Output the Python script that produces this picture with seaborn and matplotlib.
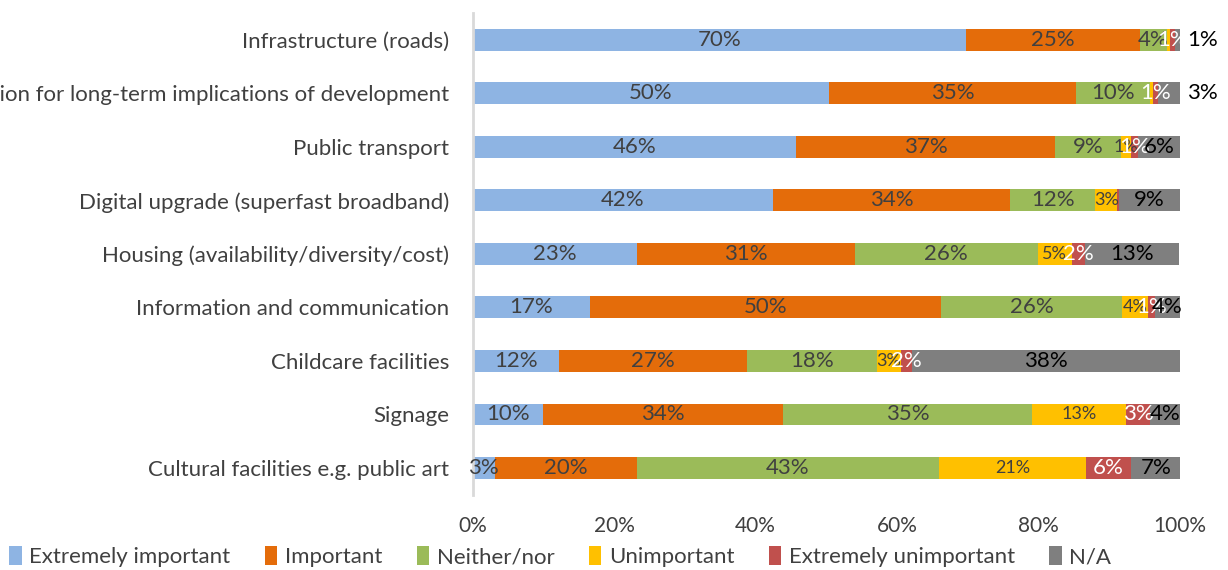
import numpy as np
import pandas as pd
import matplotlib
matplotlib.use("Agg")
import matplotlib.pyplot as plt
from matplotlib.patches import Patch
import seaborn as sns

# categories, top to bottom
categories = [
    "Infrastructure (roads)",
    "Consideration for long-term implications of development",
    "Public transport",
    "Digital upgrade (superfast broadband)",
    "Housing (availability/diversity/cost)",
    "Information and communication",
    "Childcare facilities",
    "Signage",
    "Cultural facilities e.g. public art",
]
series = ["Extremely important", "Important", "Neither/nor", "Unimportant",
          "Extremely unimportant", "N/A"]

# shares in %
extremely_important = [69.7, 50.4, 45.7, 42.4, 23.2, 16.6, 12.2, 9.9, 3.1]
important = [24.6, 34.9, 36.6, 33.6, 30.8, 49.6, 26.6, 33.9, 20.1]
neither_nor = [3.9, 10.4, 9.4, 12.0, 25.9, 25.6, 18.3, 35.3, 42.7]
unimportant = [0.4, 0.4, 1.4, 3.1, 4.8, 3.6, 3.4, 13.3, 20.8]
extremely_unimportant = [0.7, 0.8, 0.9, 0.3, 1.8, 1.0, 1.6, 3.4, 6.4]
not_applicable = [0.7, 3.1, 6.0, 8.6, 13.4, 3.6, 37.9, 4.2, 6.9]

values = [extremely_important, important, neither_nor, unimportant,
          extremely_unimportant, not_applicable]
colors = ["#8EB4E3", "#E46C0A", "#9BBB59", "#FFC000", "#C0504D", "#7F7F7F"]
label_colors = ["#404040", "#404040", "#404040", "#404040", "white", "black"]
label_sizes = [16, 16, 16, 13, 16, 16]

df = pd.DataFrame(dict(zip(series, values)), index=categories)
cum = df.cumsum(axis=1)

sns.set_style("white")
plt.rcParams["font.family"] = ["Lato", "DejaVu Sans"]

fig = plt.figure(figsize=(12.28, 5.70), dpi=100)
ax = fig.add_axes([0.385, 0.132, 0.576, 0.845])

# stacked bars: draw cumulative totals from the outermost series inwards
for s, c in reversed(list(zip(series, colors))):
    sns.barplot(x=cum[s].values, y=categories, order=categories, color=c,
                width=0.41, orient="y", ax=ax, saturation=1, linewidth=0)

# data labels
for j, s in enumerate(series):
    for i, cat in enumerate(categories):
        v = df.loc[cat, s]
        if round(v) == 0:
            continue
        start = cum.loc[cat, s] - v
        xpos = start + v / 2
        ha = "center"
        if s == "N/A" and v < 3.5:
            xpos = 101.0
            ha = "left"
        ax.text(xpos, i, f"{round(v)}%", ha=ha, va="center",
                color=label_colors[j], fontsize=label_sizes[j])

ax.set_xlim(0, 100)
ax.set_ylim(8.5, -0.5)
ax.set_xticks(np.arange(0, 101, 20))
ax.set_xticklabels([f"{t}%" for t in range(0, 101, 20)])
ax.set_xlabel("")
ax.set_ylabel("")
ax.tick_params(axis="x", length=0, colors="#404040", labelsize=15, pad=15)
ax.tick_params(axis="y", length=0, colors="#404040", labelsize=16, pad=17)
for side in ["top", "right", "bottom"]:
    ax.spines[side].set_visible(False)
ax.spines["left"].set_color("#D9D9D9")
ax.spines["left"].set_linewidth(2)
ax.grid(False)

handles = [Patch(facecolor=c, edgecolor="none") for c in colors]
fig.legend(handles, series, loc="center left", bbox_to_anchor=(0.004, 0.023), ncol=6,
           frameon=False, fontsize=16, handlelength=0.55, handleheight=0.9,
           handletextpad=0.35, columnspacing=1.55, labelcolor="#404040",
           borderpad=0.2, borderaxespad=0.0)

fig.savefig("out.png", dpi=100)
